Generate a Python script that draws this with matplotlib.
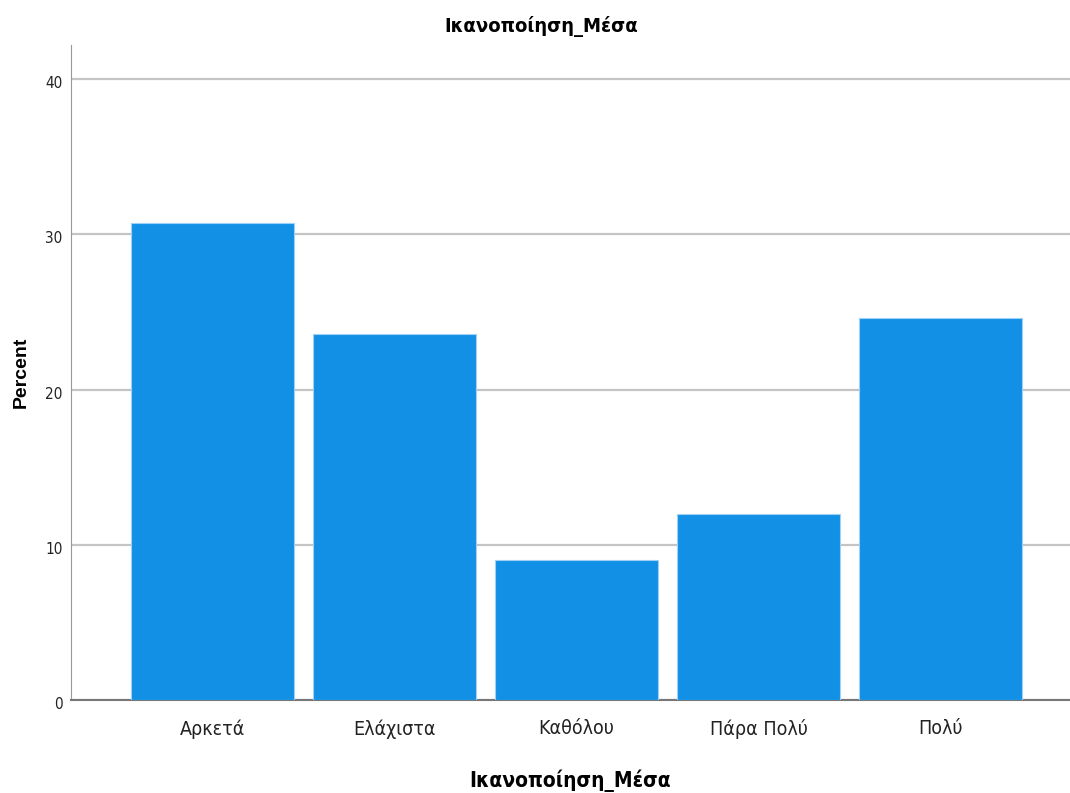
import matplotlib
matplotlib.use("Agg")
import matplotlib.pyplot as plt
from matplotlib.transforms import ScaledTranslation

categories = ["Αρκετά", "Ελάχιστα", "Καθόλου", "Πάρα Πολύ", "Πολύ"]
percent = [30.7, 23.6, 9.0, 12.0, 24.6]
yticks = [0, 10, 20, 30, 40]

plt.rcParams['font.family'] = ['DejaVu Sans']

fig = plt.figure(figsize=(10.7, 7.93), dpi=100)
ax = fig.add_axes([0.0664, 0.1173, 0.9336, 0.826])

x = list(range(len(categories)))
ax.bar(x, percent, width=0.896, color="#1290E6", edgecolor="#9fd0f5", linewidth=0.8, zorder=3)

ax.set_xlim(-0.777, 4.71)
ax.set_ylim(0, 42.2)
ax.set_yticks(yticks)
ax.set_yticklabels([str(v) for v in yticks], fontsize=11, fontstretch="condensed",
                   color="#222222")
ax.set_xticks(x)
ax.set_xticklabels(categories, fontsize=14, fontstretch="condensed", color="#222222")
ax.tick_params(axis='x', length=0, pad=14)
ax.tick_params(axis='y', length=0, pad=6)
off = ScaledTranslation(0, -3 / 100, fig.dpi_scale_trans)
for lab in ax.get_yticklabels():
    lab.set_transform(lab.get_transform() + off)

ax.grid(axis='y', color="#c4c4c4", linewidth=1.6, zorder=0)
for s in ["top", "right"]:
    ax.spines[s].set_visible(False)
ax.spines["left"].set_color("#999999")
ax.spines["bottom"].set_color("#777777")
ax.spines["bottom"].set_linewidth(1.5)

fig.text(0.5056, 0.966, "Ικανοποίηση_Μέσα", fontsize=14.5, fontweight="bold",
         fontstretch="condensed", ha="center", va="center")
ax.set_xlabel("Ικανοποίηση_Μέσα", fontsize=15, fontweight="bold", labelpad=22,
              fontstretch="condensed")
ax.set_ylabel("Percent", fontsize=14, fontweight="bold", labelpad=11,
              family=["Liberation Sans", "DejaVu Sans"])

fig.savefig("out.png", dpi=100, facecolor="white")
